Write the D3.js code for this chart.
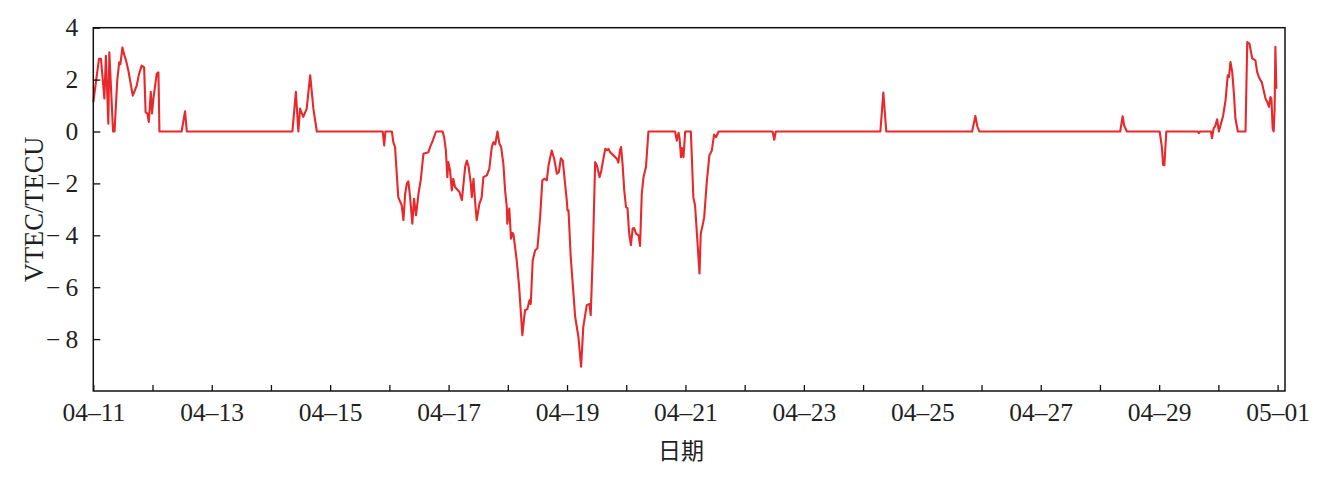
<!DOCTYPE html>
<html>
<head>
<meta charset="utf-8">
<script src="https://cdn.jsdelivr.net/npm/d3@7"></script>
<style>
  html, body { margin: 0; padding: 0; background: #fff; }
  svg { display: block; }
</style>
</head>
<body>
<svg id="chart" width="1325" height="477"></svg>
<script>
// ---- data: hours since 04-11 00:00 and VTEC anomaly (TECU) ----
const startDate = "2020-04-11T00:00:00Z";
const endHour = 483;
const hours = [
  0, 2.3, 3.1, 4.5, 5.1, 6.1, 6.5, 8.0, 8.6, 9.7, 10.5, 11, 11.8, 12.4, 13.3, 14.2, 16.0, 17.6, 18.5, 19.6,
  20.6, 21.2, 21.9, 22.5, 23.3, 23.8, 24.4, 25.7, 26.4, 26.8,
  35.8, 37.2, 37.9,
  80.7, 82.1, 83.1, 83.8, 85.1, 86.5, 87.9, 89.2, 90.6,
  117.3, 117.9, 118.4, 121.0, 121.6, 122.3, 123.6, 125.0, 125.7, 126.4, 127.1, 127.7, 128.4, 129.3, 130.0,
  130.8, 131.8, 132.7, 133.8, 135.8, 136.5, 137.6, 138.9, 141.6, 142.2, 142.9, 143.5, 143.9, 144.6, 145.3,
  145.9, 146.6, 148.4, 149.4, 150.7, 151.4, 152.1, 153.0, 153.4, 154.1, 154.7, 155.4, 156.5, 157.4, 158.1,
  159.5, 160.5, 161.5, 162.2, 162.9, 163.8, 164.6, 165.3, 166.2, 166.9, 167.6, 167.8, 168.6, 169.3, 169.9,
  170.3, 171.6, 172.6, 173.9, 174.6, 175.0, 175.9, 176.8, 177.3, 178.1, 179.1, 180.0, 181.1, 182.0, 182.8,
  183.8, 184.5, 185.8, 186.8, 187.9, 188.7, 189.5, 190.3, 191.2, 191.9, 192.2, 192.6, 193.5, 195.3, 196.6,
  197.7, 198.6, 200.0, 201.1, 201.6, 202.5, 203.4, 204.1, 205.2, 205.9, 206.6, 207.5, 208.2, 208.8, 209.5,
  210.8, 212.2, 212.8, 213.5, 213.9, 214.5, 215.2, 215.9, 216.5, 217.2, 217.9, 218.6, 219.2, 220.0, 221.0,
  221.6, 222.3, 223.0, 224.0, 225.0,
  235.8, 236.5, 237.2, 237.6, 238.2, 238.6, 239.2, 239.9, 242.2, 243.2, 243.9, 245.7, 246.2, 247.1, 247.6,
  248.7, 249.7, 250.7, 251.6, 252.4, 253.4,
  275.3, 276.0, 276.6,
  319.0, 320.2, 321.4,
  356.2, 357.5, 358.3, 359.1,
  416.2, 417.2, 417.8, 418.9,
  432.2, 433.1, 433.6, 434.1, 434.9,
  447.6, 448.1, 448.6,
  453.0, 453.4, 454.1, 454.7, 455.5, 456.2, 456.9, 457.9, 458.9, 459.8, 460.3, 460.9, 461.6, 462.3, 462.9,
  463.9, 467.0, 467.7, 468.6, 469.7, 471.0, 471.7, 472.4, 473.1, 473.6, 474.2, 475.1, 475.8, 476.5, 477.1,
  477.5, 478.0, 478.4, 478.8, 479.1, 479.5
];
const vtec = [
  1.13, 2.8, 2.8, 1.27, 2.92, 0.3, 3.05, 0, 0, 1.96, 2.67, 2.6, 3.24, 3.0, 2.73, 2.35, 1.38, 1.77, 2.2, 2.54,
  2.47, 0.74, 0.7, 0.37, 1.53, 0.7, 1.3, 2.22, 2.28, 0,
  0, 0.78, 0,
  0, 1.53, 0, 0.88, 0.56, 0.88, 2.17, 0.88, 0,
  0, -0.54, 0, 0, -0.41, -0.6, -2.53, -2.85, -3.42, -2.4, -2.0, -1.92, -2.53, -3.55, -2.59,
  -3.23, -2.4, -1.88, -0.86, -0.8, -0.6, -0.35, 0, 0, -0.22, -0.73, -1.76, -1.18, -1.5, -2.27,
  -1.82, -2.14, -2.33, -2.65, -1.37, -1.12, -1.35, -2.0, -2.53, -1.82, -2.65, -3.42, -2.78, -2.55, -1.76,
  -1.69, -1.44, -0.6, -0.41, -0.5, 0, -0.47, -0.6, -1.24, -2.27, -2.91, -3.55, -2.97, -4.13, -3.91,
  -3.96, -4.96, -5.99, -7.85, -7.2, -6.88, -6.85, -6.5, -6.65, -4.96, -4.58, -4.5, -3.3, -1.88, -1.82,
  -1.88, -1.31, -0.73, -1.05, -1.63, -1.56, -1.03, -1.12, -2.01, -2.65, -3.04, -3.04, -4.83, -7.14, -7.91,
  -9.06, -7.53, -6.69, -6.65, -7.08, -4.58, -1.18, -1.31, -1.76, -1.5, -1.12, -0.67, -0.72, -0.67, -0.8,
  -0.92, -1.05, -1.2, -0.7, -0.6, -1.24, -2.27, -2.91, -2.95, -3.94, -4.38, -3.74, -3.72, -3.94, -4.0,
  -4.41, -2.4, -1.76, -1.37, 0,
  0, -0.35, -0.05, -0.25, -0.99, -0.64, -0.99, 0, 0, -2.53, -2.85, -5.47, -3.94, -3.55, -3.3,
  -1.88, -0.92, -0.73, -0.12, -0.22, 0,
  0, -0.32, 0,
  0, 1.5, 0,
  0, 0.6, 0.2, 0,
  0, 0.59, 0.23, 0,
  0, -0.6, -1.29, -1.3, 0,
  0, -0.06, 0,
  0, -0.26, 0.13, 0.2, 0.47, 0, 0.25, 0.6, 1.2, 2.17, 2.1, 2.68, 2.3, 1.46, 0.5,
  0, 0, 3.45, 3.38, 2.82, 2.74, 2.3, 2.1, 1.97, 1.9, 1.65, 1.27, 1.14, 0.95, 1.33,
  1.25, 0.12, 0, 0.88, 3.26, 1.65
];
const yTicks = [-8, -6, -4, -2, 0, 2, 4];
const yDomain = [-10, 4];
const xLabel = "日期";
const yLabel = "VTEC/TECU";

// ---- layout ----
const svg = d3.select("#chart");
const mLeft = 93.3, mRight = 1285, mTop = 27.7, mBottom = 391;
const t0 = new Date(startDate).getTime();
const toDate = h => new Date(t0 + h * 3600e3);

const x = d3.scaleUtc().domain([toDate(0), toDate(endHour)]).range([mLeft, mRight]);
const y = d3.scaleLinear().domain(yDomain).range([mBottom, mTop]);

const n = Math.min(hours.length, vtec.length);
const data = d3.range(n).map(i => ({ t: toDate(hours[i]), v: vtec[i] }));

const textColor = "#231f1f";
const fontSerif = "'Liberation Serif', 'Times New Roman', serif";

// line
svg.append("path")
  .datum(data)
  .attr("fill", "none")
  .attr("stroke", "#e8282b")
  .attr("stroke-width", 2.1)
  .attr("stroke-linejoin", "round")
  .attr("d", d3.line().x(d => x(d.t)).y(d => y(d.v)));

// x axis (ticks inward)
const fmt = d3.utcFormat("%m–%d");
const xAxis = d3.axisBottom(x)
  .ticks(d3.utcDay.every(1))
  .tickSizeInner(-6)
  .tickSizeOuter(0)
  .tickPadding(12)
  .tickFormat(d => {
    const dayIdx = Math.round((d.getTime() - t0) / 86400e3);
    return dayIdx % 2 === 0 ? fmt(d) : "";
  });
const gx = svg.append("g").attr("transform", `translate(0,${mBottom})`).call(xAxis);
gx.select(".domain").remove();
gx.selectAll(".tick line").attr("stroke", "#111").attr("stroke-width", 1.3);
gx.selectAll(".tick text")
  .attr("fill", textColor)
  .style("font-family", fontSerif)
  .style("font-size", "25.5px");

// y axis (ticks inward)
const yAxis = d3.axisLeft(y)
  .tickValues(yTicks)
  .tickSizeInner(-7)
  .tickSizeOuter(0)
  .tickPadding(15)
  .tickFormat(d => (d < 0 ? "\u2212\u2009" + Math.abs(d) : String(d)));
const gy = svg.append("g").attr("transform", `translate(${mLeft},0)`).call(yAxis);
gy.select(".domain").remove();
gy.selectAll(".tick line").attr("stroke", "#111").attr("stroke-width", 1.3);
gy.selectAll(".tick text")
  .attr("fill", textColor)
  .style("font-family", fontSerif)
  .style("font-size", "25.5px");

// frame
svg.append("rect")
  .attr("x", mLeft).attr("y", mTop)
  .attr("width", mRight - mLeft).attr("height", mBottom - mTop)
  .attr("fill", "none")
  .attr("stroke", "#111")
  .attr("stroke-width", 1.5);

// axis titles
svg.append("text")
  .attr("x", 681).attr("y", 459)
  .attr("text-anchor", "middle")
  .attr("fill", textColor)
  .style("font-family", "'Noto Sans CJK SC', sans-serif")
  .style("font-size", "23px")
  .text(xLabel);

svg.append("text")
  .attr("transform", `translate(43,${(mTop + mBottom) / 2}) rotate(-90)`)
  .attr("text-anchor", "middle")
  .attr("fill", textColor)
  .style("font-family", fontSerif)
  .style("font-size", "26.5px")
  .text(yLabel);
</script>
</body>
</html>
